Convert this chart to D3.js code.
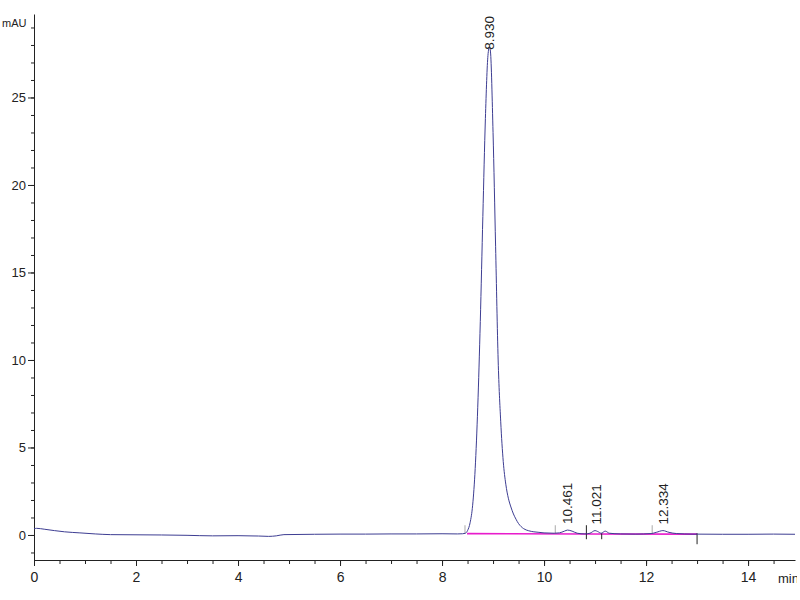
<!DOCTYPE html>
<html>
<head>
<meta charset="utf-8">
<script src="https://cdn.jsdelivr.net/npm/d3@7"></script>
<style>
  body { margin: 0; background: #fff; }
  svg text { font-family: "Liberation Sans Narrow", "Liberation Sans", Arial, sans-serif; fill: #222; }
</style>
</head>
<body>
<svg id="chrom_svg" width="800" height="600"></svg>
<script>
// retention time (min) and signal (mAU)
var times = [0.00, 0.05, 0.20, 0.40, 0.60, 0.90, 1.20, 1.50, 2.00, 2.50, 3.00, 3.50, 4.00, 4.40, 4.60, 4.75, 4.90,
  5.50, 6.00, 6.50, 7.00, 7.50, 8.00, 8.30, 8.40, 8.45, 8.50, 8.55, 8.60, 8.65, 8.70, 8.75, 8.80, 8.85, 8.90,
  8.93, 8.95, 9.00, 9.05, 9.10, 9.15, 9.20, 9.25, 9.30, 9.35, 9.40, 9.45, 9.50, 9.55, 9.60, 9.70, 9.80, 9.90,
  10.00, 10.20, 10.30, 10.40, 10.46, 10.55, 10.65, 10.80, 10.90, 11.00, 11.05, 11.12, 11.20, 11.28, 11.50, 11.80,
  12.10, 12.20, 12.33, 12.45, 12.60, 12.90, 13.50, 14.00, 14.50, 14.92];
var signal = [0.35, 0.38, 0.33, 0.25, 0.18, 0.12, 0.06, 0.02, 0.01, 0.00, -0.02, -0.05, -0.04, -0.06, -0.08, -0.05, 0.02,
  0.04, 0.05, 0.05, 0.06, 0.06, 0.07, 0.06, 0.07, 0.09, 0.25, 0.7, 1.7, 3.8, 7.3, 12.2, 18.2, 23.8, 27.4,
  27.9, 27.6, 23.0, 16.5, 10.0, 6.5, 4.2, 2.9, 2.1, 1.6, 1.2, 0.9, 0.65, 0.48, 0.36, 0.24, 0.18, 0.15,
  0.12, 0.10, 0.12, 0.22, 0.28, 0.22, 0.10, 0.06, 0.10, 0.25, 0.20, 0.10, 0.22, 0.10, 0.06, 0.05,
  0.08, 0.15, 0.25, 0.15, 0.08, 0.05, 0.04, 0.04, 0.05, 0.04];

// peak labels
var peakTimes = [8.930, 10.461, 11.021, 12.334];
var peakHeights = [27.9, 0.28, 0.25, 0.25];
var peakLabels = ['8.930', '10.461', '11.021', '12.334'];

// integration baselines [t1, v1, t2, v2]
var baseSegs = [[8.49, 0.08, 10.83, 0.06], [10.83, 0.06, 13.0, 0.05]];
// integration event marks
var eventsFaint = [8.45, 10.22, 12.12];
var eventsDark = [10.83, 11.13, 13.0];

var xMajor = [0, 2, 4, 6, 8, 10, 12, 14];
var yMajor = [0, 5, 10, 15, 20, 25];

var margin = { top: 14, right: 5, bottom: 40, left: 34 },
  width = 800 - margin.left - margin.right,
  height = 600 - margin.top - margin.bottom;

var svg = d3.select('#chrom_svg');
var g = svg.append('g').attr('transform', 'translate(' + margin.left + ',' + margin.top + ')');

var x = d3.scaleLinear().domain([0, 14.92]).range([0, width]);
var y = d3.scaleLinear().domain([-1.43, 29.77]).range([height, 0]);

var xMinor = d3.range(0, 14.9, 0.5);
var yMinor = d3.range(-1, 30, 1);

// minor ticks
g.append('g')
  .attr('transform', 'translate(0,' + height + ')')
  .call(d3.axisBottom(x).tickValues(xMinor).tickSize(4).tickFormat(''))
  .call(a => a.select('.domain').remove());
g.append('g')
  .call(d3.axisLeft(y).tickValues(yMinor).tickSize(3).tickFormat(''))
  .call(a => a.select('.domain').remove());

// major ticks + labels
var xAxis = g.append('g')
  .attr('transform', 'translate(0,' + height + ')')
  .call(d3.axisBottom(x).tickValues(xMajor).tickSize(6).tickSizeOuter(0).tickPadding(6).tickFormat(d3.format('d')));
xAxis.selectAll('text').style('font-size', '14px');

var yAxis = g.append('g')
  .call(d3.axisLeft(y).tickValues(yMajor).tickSize(6).tickSizeOuter(0).tickPadding(2).tickFormat(d3.format('d')));
yAxis.selectAll('text').style('font-size', '13px');

svg.selectAll('.domain, .tick line').attr('stroke', '#222');

svg.append('text').attr('x', 2).attr('y', 27).style('font-size', '11px').text('mAU');

svg.append('clipPath').attr('id', 'unitclip')
  .append('rect').attr('x', 0).attr('y', 0).attr('width', 797).attr('height', 600);
svg.append('text').attr('x', 778).attr('y', 583).attr('clip-path', 'url(#unitclip)')
  .style('font-size', '13px').text('min');

// integration baselines
g.selectAll('.baseseg')
  .data(baseSegs)
  .enter()
  .append('line')
  .attr('x1', d => x(d[0])).attr('y1', d => y(d[1]))
  .attr('x2', d => x(d[2])).attr('y2', d => y(d[3]))
  .attr('stroke', '#e81ccc')
  .attr('stroke-width', 1.6);

// event marks
g.selectAll('.evfaint')
  .data(eventsFaint)
  .enter()
  .append('line')
  .attr('x1', d => x(d)).attr('x2', d => x(d))
  .attr('y1', y(0.1) - 8).attr('y2', y(0.1))
  .attr('stroke', '#aaa');
g.selectAll('.evdark')
  .data(eventsDark)
  .enter()
  .append('line')
  .attr('x1', d => x(d)).attr('x2', d => x(d))
  .attr('y1', (d, i) => i == 0 ? y(0.1) - 8 : y(0.1))
  .attr('y2', (d, i) => y(0.1) + (i == 2 ? 11 : 6))
  .attr('stroke', '#222');

// trace
var pts = times.map((t, i) => [t, signal[i]]);
var line = d3.line().x(d => x(d[0])).y(d => y(d[1])).curve(d3.curveMonotoneX);
g.append('path')
  .datum(pts)
  .attr('fill', 'none')
  .attr('stroke', '#3d3d92')
  .attr('stroke-width', 1)
  .attr('d', line);

// peak labels, rotated
var labels = g.selectAll('.plabel')
  .data(peakTimes)
  .enter()
  .append('text')
  .attr('class', 'plabel')
  .style('font-family', '"Liberation Sans", Arial, sans-serif')
  .style('font-size', '13.5px')
  .attr('dy', '0.36em')
  .text((d, i) => peakLabels[i]);

labels.each(function (d, i) {
  var len = this.getComputedTextLength();
  var sy = Math.max(y(peakHeights[i]) - 6, len + 2);
  d3.select(this).attr('transform', 'translate(' + x(d) + ',' + sy + ') rotate(-90)');
});
</script>
</body>
</html>
